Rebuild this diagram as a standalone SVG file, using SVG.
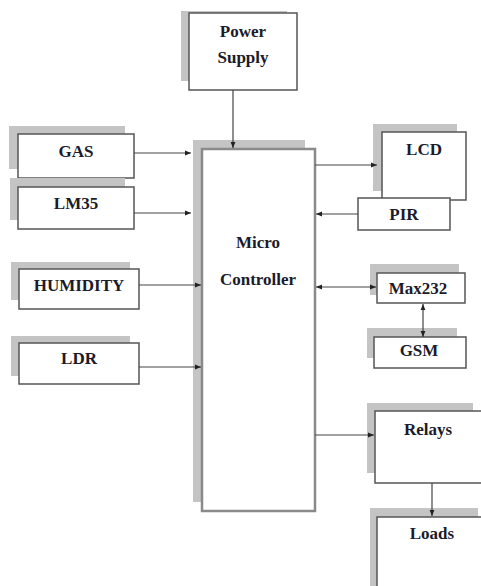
<svg xmlns="http://www.w3.org/2000/svg" width="481" height="586" viewBox="0 0 481 586">
<style>
.sh{fill:#c4c4c4;stroke:none}
.bx{fill:#fff;stroke:#555;stroke-width:1.5}
.mc{fill:#fff;stroke:#8a8a8a;stroke-width:2.5}
.t{font-family:"Liberation Serif","Times New Roman",serif;font-weight:bold;font-size:17px;fill:#1b1b2a;text-anchor:middle}
.ln{stroke:#444;stroke-width:1.2;fill:none}
</style>
<defs>
<marker id="ah" viewBox="0 0 10 10" refX="10" refY="5" markerWidth="6" markerHeight="6" orient="auto" markerUnits="userSpaceOnUse">
<path d="M0,1 L10,5 L0,9 z" fill="#222"/>
</marker>
<marker id="as" viewBox="0 0 10 10" refX="0" refY="5" markerWidth="6" markerHeight="6" orient="auto" markerUnits="userSpaceOnUse">
<path d="M10,1 L0,5 L10,9 z" fill="#222"/>
</marker>
</defs>
<rect width="481" height="586" fill="#fff"/>
<g id="power">
<rect class="sh" x="181" y="11" width="106" height="70"/>
<rect class="bx" x="189" y="13" width="108" height="77"/>
<text class="t" x="243" y="37">Power</text>
<text class="t" x="243" y="63">Supply</text>
</g>
<g id="gas">
<rect class="sh" x="9" y="126" width="116" height="43"/>
<rect class="bx" x="18" y="134" width="116" height="44"/>
<text class="t" x="76" y="157">GAS</text>
</g>
<g id="lm35">
<rect class="sh" x="10" y="178" width="115" height="42"/>
<rect class="bx" x="18" y="187" width="116" height="42"/>
<text class="t" x="76" y="209">LM35</text>
</g>
<g id="humidity">
<rect class="sh" x="11" y="262" width="119" height="38"/>
<rect class="bx" x="19" y="269" width="120" height="40"/>
<text class="t" x="79" y="291">HUMIDITY</text>
</g>
<g id="ldr">
<rect class="sh" x="11" y="336" width="119" height="40"/>
<rect class="bx" x="19" y="343" width="120" height="41"/>
<text class="t" x="79" y="364">LDR</text>
</g>
<g id="micro">
<rect class="sh" x="193" y="140" width="112" height="362"/>
<rect class="mc" x="202" y="149" width="113" height="362"/>
<text class="t" x="258" y="248">Micro</text>
<text class="t" x="258" y="285">Controller</text>
</g>
<g id="lcd">
<rect class="sh" x="373" y="124" width="84" height="67"/>
<rect class="bx" x="382" y="132" width="84" height="68"/>
<text class="t" x="424" y="155">LCD</text>
</g>
<g id="pir">
<rect class="bx" x="358" y="198" width="92" height="32"/>
<text class="t" x="404" y="220">PIR</text>
</g>
<g id="max232">
<rect class="sh" x="370" y="264" width="89" height="31"/>
<rect class="bx" x="377" y="273" width="88" height="30"/>
<text class="t" x="418" y="294">Max232</text>
</g>
<g id="gsm">
<rect class="sh" x="367" y="328" width="90" height="30"/>
<rect class="bx" x="374" y="337" width="92" height="31"/>
<text class="t" x="419" y="356">GSM</text>
</g>
<g id="relays">
<rect class="sh" x="367" y="403" width="106" height="70"/>
<rect class="bx" x="375" y="411" width="110" height="72"/>
<text class="t" x="428" y="435">Relays</text>
</g>
<g id="loads">
<rect class="sh" x="370" y="508" width="108" height="90"/>
<rect class="bx" x="377" y="517" width="110" height="80"/>
<text class="t" x="432" y="539">Loads</text>
</g>
<g id="connectors">
<line class="ln" x1="233" y1="90" x2="233" y2="148" marker-end="url(#ah)"/>
<line class="ln" x1="134" y1="153" x2="191" y2="153" marker-end="url(#ah)"/>
<line class="ln" x1="134" y1="213" x2="191" y2="213" marker-end="url(#ah)"/>
<line class="ln" x1="139" y1="285" x2="201" y2="285" marker-end="url(#ah)"/>
<line class="ln" x1="139" y1="367" x2="201" y2="367" marker-end="url(#ah)"/>
<line class="ln" x1="315" y1="165" x2="377" y2="165" marker-end="url(#ah)"/>
<line class="ln" x1="358" y1="214" x2="316" y2="214" marker-end="url(#ah)"/>
<line class="ln" x1="316" y1="287" x2="376" y2="287" marker-start="url(#as)" marker-end="url(#ah)"/>
<line class="ln" x1="423" y1="304" x2="423" y2="337" marker-start="url(#as)" marker-end="url(#ah)"/>
<line class="ln" x1="315" y1="435" x2="374" y2="435" marker-end="url(#ah)"/>
<line class="ln" x1="432" y1="483" x2="432" y2="516" marker-end="url(#ah)"/>
</g>
</svg>
